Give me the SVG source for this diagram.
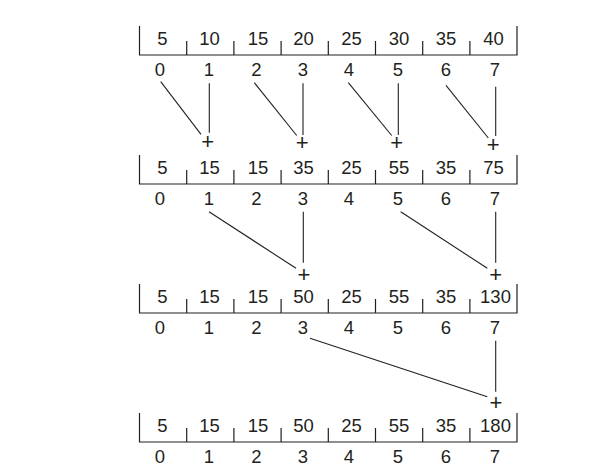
<svg xmlns="http://www.w3.org/2000/svg" width="613" height="466" viewBox="0 0 613 466">
<style>
  .frame { fill: none; stroke: #231f20; stroke-width: 1.2; }
  .val { font-family: "Liberation Sans", Arial, sans-serif; font-size: 18.5px; fill: #231f20; text-anchor: middle; }
  .idx { font-family: "Liberation Sans", Arial, sans-serif; font-size: 18.5px; fill: #231f20; text-anchor: middle; }
  .op { font-family: "Liberation Sans", Arial, sans-serif; font-size: 22px; fill: #231f20; text-anchor: middle; }
  .conn line { stroke: #231f20; stroke-width: 1.1; }
</style>
<defs>
  <g id="arr">
    <path class="frame" d="M139.5,-29 V0 H517 V-29 M186.7,0 V-14 M233.9,0 V-14 M281.1,0 V-14 M328.3,0 V-14 M375.5,0 V-14 M422.7,0 V-14 M469.9,0 V-14"/>
    <text class="idx" x="160" y="20.5">0</text>
    <text class="idx" x="209" y="20.5">1</text>
    <text class="idx" x="256.5" y="20.5">2</text>
    <text class="idx" x="303" y="20.5">3</text>
    <text class="idx" x="349" y="20.5">4</text>
    <text class="idx" x="398" y="20.5">5</text>
    <text class="idx" x="446" y="20.5">6</text>
    <text class="idx" x="495" y="20.5">7</text>
  </g>
</defs>

<g id="array0" transform="translate(0,55)">
  <use href="#arr"/>
  <text class="val" x="162.5" y="-10.5">5</text>
  <text class="val" x="209.5" y="-10.5">10</text>
  <text class="val" x="258" y="-10.5">15</text>
  <text class="val" x="303.5" y="-10.5">20</text>
  <text class="val" x="351.5" y="-10.5">25</text>
  <text class="val" x="399" y="-10.5">30</text>
  <text class="val" x="446" y="-10.5">35</text>
  <text class="val" x="493.5" y="-10.5">40</text>
</g>

<g id="array1" transform="translate(0,184)">
  <use href="#arr"/>
  <text class="val" x="162.5" y="-10.5">5</text>
  <text class="val" x="209.5" y="-10.5">15</text>
  <text class="val" x="258" y="-10.5">15</text>
  <text class="val" x="303.5" y="-10.5">35</text>
  <text class="val" x="351.5" y="-10.5">25</text>
  <text class="val" x="399" y="-10.5">55</text>
  <text class="val" x="446" y="-10.5">35</text>
  <text class="val" x="493.5" y="-10.5">75</text>
</g>

<g id="array2" transform="translate(0,313)">
  <use href="#arr"/>
  <text class="val" x="162.5" y="-10.5">5</text>
  <text class="val" x="209.5" y="-10.5">15</text>
  <text class="val" x="258" y="-10.5">15</text>
  <text class="val" x="303.5" y="-10.5">50</text>
  <text class="val" x="351.5" y="-10.5">25</text>
  <text class="val" x="399" y="-10.5">55</text>
  <text class="val" x="446" y="-10.5">35</text>
  <text class="val" x="495.5" y="-10.5">130</text>
</g>

<g id="array3" transform="translate(0,442)">
  <use href="#arr"/>
  <text class="val" x="162.5" y="-10.5">5</text>
  <text class="val" x="209.5" y="-10.5">15</text>
  <text class="val" x="258" y="-10.5">15</text>
  <text class="val" x="303.5" y="-10.5">50</text>
  <text class="val" x="351.5" y="-10.5">25</text>
  <text class="val" x="399" y="-10.5">55</text>
  <text class="val" x="446" y="-10.5">35</text>
  <text class="val" x="495.5" y="-10.5">180</text>
</g>

<g id="plus-1-1"><text class="op" x="207.7" y="148.7">+</text></g>
<g id="plus-1-3"><text class="op" x="302.3" y="150.4">+</text></g>
<g id="plus-1-5"><text class="op" x="396.7" y="150.4">+</text></g>
<g id="plus-1-7"><text class="op" x="493.3" y="152">+</text></g>
<g id="plus-2-3"><text class="op" x="304" y="281.7">+</text></g>
<g id="plus-2-7"><text class="op" x="495.7" y="281.7">+</text></g>
<g id="plus-3-7"><text class="op" x="496" y="409.7">+</text></g>

<g id="connectors" class="conn">
  <line x1="160.7" y1="81.7" x2="201" y2="134.3"/>
  <line x1="209.3" y1="83.3" x2="209.3" y2="132.7"/>
  <line x1="254.3" y1="82.7" x2="296.7" y2="135.5"/>
  <line x1="303" y1="83.3" x2="303" y2="135"/>
  <line x1="348.3" y1="82.7" x2="391.7" y2="135.5"/>
  <line x1="398.3" y1="83.3" x2="398.3" y2="135"/>
  <line x1="446" y1="85.3" x2="488.3" y2="138"/>
  <line x1="495.7" y1="86.7" x2="495.7" y2="136"/>

  <line x1="209" y1="211.7" x2="296" y2="268.3"/>
  <line x1="303.3" y1="211.7" x2="303.3" y2="262.7"/>
  <line x1="400.7" y1="211.7" x2="487.3" y2="268.3"/>
  <line x1="495.7" y1="211.7" x2="495.7" y2="262.7"/>

  <line x1="310" y1="338.3" x2="487.3" y2="396.7"/>
  <line x1="495.7" y1="340.7" x2="495.7" y2="391.7"/>
</g>
</svg>
